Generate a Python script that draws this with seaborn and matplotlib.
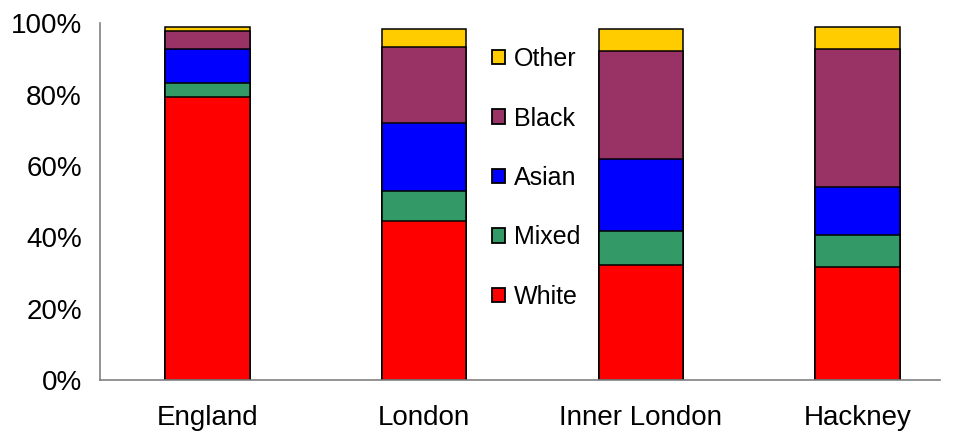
import numpy as np
import pandas as pd
import matplotlib
matplotlib.use("Agg")
import matplotlib.pyplot as plt
from matplotlib.patches import Patch
import seaborn as sns

# Data (percent of population)
areas = ["England", "London", "Inner London", "Hackney"]
groups = ["White", "Mixed", "Asian", "Black", "Other"]
white = [79.2, 44.6, 32.2, 31.6]
mixed = [4.0, 8.4, 9.7, 9.0]
asian = [9.6, 19.0, 20.0, 13.4]
black = [5.1, 21.3, 30.3, 38.9]
other = [1.0, 5.2, 6.2, 6.0]
colors = ["#FF0000", "#339966", "#0000FF", "#993366", "#FFCC00"]

sns.set_style("white")
plt.rcParams['font.family'] = ['Liberation Sans', 'DejaVu Sans']
plt.rcParams['text.color'] = 'black'
plt.rcParams['xtick.color'] = 'black'
plt.rcParams['ytick.color'] = 'black'

df = pd.DataFrame({"area": areas, "White": white, "Mixed": mixed,
                   "Asian": asian, "Black": black, "Other": other})

# Cumulative totals, drawn from the tallest down so each layer sits on top
cum = df[groups].cumsum(axis=1)

fig = plt.figure(figsize=(9.57, 4.34), dpi=100)
ax = fig.add_axes([100 / 957, 54 / 434, 840 / 957, 356.7 / 434])

for g, c in reversed(list(zip(groups, colors))):
    sns.barplot(x=df["area"], y=cum[g], color=c, width=0.39,
                edgecolor="black", linewidth=1.1, saturation=1, ax=ax)

ax.set_xlim(-0.496, 3.38)
ax.set_ylim(0, 100)
ax.set_yticks(np.arange(0, 101, 20))
ax.set_yticklabels([f"{v}%" for v in range(0, 101, 20)])
ax.set_xlabel("")
ax.set_ylabel("")

for s in ["top", "right"]:
    ax.spines[s].set_visible(False)
ax.spines["left"].set_color("#808080")
ax.spines["bottom"].set_color("#808080")
ax.spines["left"].set_linewidth(1.2)
ax.spines["bottom"].set_linewidth(1.2)
ax.tick_params(axis="y", direction="out", length=7, width=1.2, color="#808080",
               labelsize=20, pad=6)
ax.tick_params(axis="x", length=0, labelsize=20, pad=18)

handles = [Patch(facecolor=c, edgecolor="black", linewidth=1.3, label=g)
           for g, c in zip(groups, colors)][::-1]
leg = ax.legend(handles=handles, loc="upper left",
                bbox_to_anchor=(492 / 957, 1 - 47 / 434), bbox_transform=fig.transFigure,
                frameon=False, fontsize=18, handlelength=0.52, handleheight=0.52,
                handletextpad=0.35, labelspacing=1.42, borderpad=0, borderaxespad=0)

fig.savefig("out.png", dpi=100)
